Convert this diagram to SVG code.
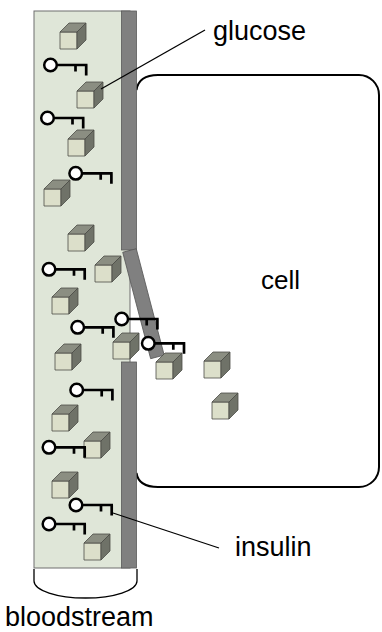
<svg xmlns="http://www.w3.org/2000/svg" width="382" height="632" viewBox="0 0 382 632">
  <style>
    .vessel { fill: #dfe6d8; stroke: #6e6e6e; stroke-width: 1; }
    .wall { fill: #808080; stroke: #5a5a5a; stroke-width: 0.8; }
    .outline { fill: none; stroke: #000; stroke-width: 2; }
    .pointer { fill: none; stroke: #000; stroke-width: 1.3; }
    .label { font-family: "Liberation Sans", Arial, sans-serif; font-size: 27px; fill: #000; }
    .cube-front { fill: #dcdfca; }
    .cube-top { fill: #8b8e82; }
    .cube-side { fill: #6f7268; }
    .cube-edge { stroke: #4b4d46; stroke-width: 0.8; stroke-linejoin: round; }
    .key-ring { fill: #fff; stroke: #000; stroke-width: 2.5; }
    .key-bit { fill: none; stroke: #000; stroke-width: 2.7; stroke-linecap: butt; }
  </style>
  <defs>
    <!-- glucose molecule: front face origin at top-left -->
    <g id="cube">
      <rect class="cube-front cube-edge" x="0" y="0" width="17" height="17"/>
      <polygon class="cube-top cube-edge" points="0,0 9,-9 26,-9 17,0"/>
      <polygon class="cube-side cube-edge" points="17,0 26,-9 26,8 17,17"/>
    </g>
    <!-- insulin key: origin at ring centre -->
    <g id="key">
      <path class="key-bit" d="M6,0 H37 M25,0 V6.5 M35.7,0 V10.5"/>
      <circle class="key-ring" cx="0" cy="0" r="6.3"/>
    </g>
  </defs>

  <!-- cell body (left side hidden behind the vessel wall) -->
  <g id="cell">
    <path class="outline" d="M136.5,90 C138,80 145,75 158,75 H359 A20 20 0 0 1 379 95 V467 A20 20 0 0 1 359 487 H158 C145,487 138,483 136.5,473"/>
    <text class="label" style="font-size:26px" x="261" y="289">cell</text>
  </g>

  <!-- bloodstream vessel -->
  <g id="bloodstream">
    <rect class="vessel" x="34" y="11" width="96" height="557"/>
    <path class="outline" style="stroke-width:1.3" d="M34,569 V581 A51.5 17 0 0 0 137 581 V569"/>
    <text class="label" x="5" y="626">bloodstream</text>
  </g>

  <!-- vessel wall with open channel -->
  <g id="wall">
    <rect class="wall" x="121.5" y="11" width="15" height="239"/>
    <rect class="wall" x="121.5" y="362" width="15" height="206"/>
    <rect class="wall" x="-7" y="0" width="14" height="110" transform="translate(129.5,250.5) rotate(-14.7)"/>
  </g>

  <!-- glucose molecules -->
  <g id="glucose-molecules">
    <use href="#cube" x="60" y="32"/>
    <use href="#cube" x="77" y="91"/>
    <use href="#cube" x="68" y="139"/>
    <use href="#cube" x="44" y="189"/>
    <use href="#cube" x="68" y="234"/>
    <use href="#cube" x="95" y="265"/>
    <use href="#cube" x="52" y="297"/>
    <use href="#cube" x="55" y="353"/>
    <use href="#cube" x="52" y="414"/>
    <use href="#cube" x="84" y="441"/>
    <use href="#cube" x="52" y="481"/>
    <use href="#cube" x="84" y="543"/>
  </g>

  <!-- insulin -->
  <g id="insulin-keys">
    <use href="#key" x="50.5" y="65"/>
    <use href="#key" x="47.5" y="118"/>
    <use href="#key" x="75.7" y="173.3"/>
    <use href="#key" x="49" y="269.3"/>
    <use href="#key" x="77.7" y="327.3"/>
    <use href="#key" x="76.7" y="390"/>
    <use href="#key" x="49" y="447.3"/>
    <use href="#key" x="76" y="505"/>
    <use href="#key" x="49" y="524"/>
  </g>

  <!-- molecules and keys passing through the channel -->
  <g id="transit">
    <use href="#cube" x="113" y="342"/>
    <use href="#key" x="121.7" y="319"/>
    <use href="#key" x="148.3" y="343.3"/>
    <use href="#cube" x="156" y="362"/>
    <use href="#cube" x="204" y="361"/>
    <use href="#cube" x="212" y="402"/>
  </g>

  <!-- callouts -->
  <g id="connectors">
    <line class="pointer" x1="101" y1="89" x2="205" y2="30"/>
    <line class="pointer" x1="113" y1="513" x2="219" y2="548"/>
  </g>
  <g id="labels">
    <text class="label" x="213" y="40">glucose</text>
    <text class="label" x="235" y="556">insulin</text>
  </g>
</svg>
